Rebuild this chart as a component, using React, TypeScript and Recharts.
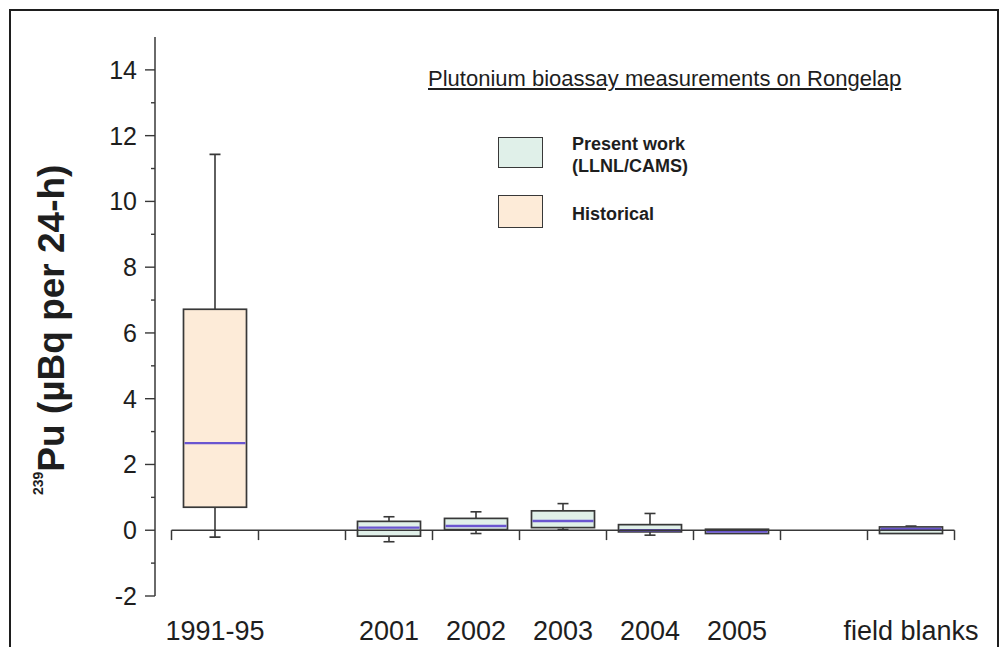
import { ComposedChart, Bar, XAxis, YAxis, ReferenceLine } from "recharts"

// slots along the x axis, two of them intentionally empty
const categories = ["1991-95", "", "2001", "2002", "2003", "2004", "2005", "", "field blanks"]
const groups = ["historical", null, "present", "present", "present", "present", "present", null, "present"]

const whiskerLow = [-0.21, null, -0.35, -0.1, 0.02, -0.15, -0.1, null, -0.1]
const boxLow = [0.7, null, -0.18, 0.02, 0.08, -0.05, -0.1, null, -0.1]
const medians = [2.65, null, 0.08, 0.13, 0.28, 0.0, -0.04, null, 0.04]
const boxHigh = [6.72, null, 0.27, 0.36, 0.59, 0.17, 0.03, null, 0.1]
const whiskerHigh = [11.43, null, 0.41, 0.56, 0.81, 0.51, 0.03, null, 0.13]

const yTicks = [-2, -1, 0, 1, 2, 3, 4, 5, 6, 7, 8, 9, 10, 11, 12, 13, 14]
const slotCenters = categories.map((_, i) => i + 0.5)
const boundaries = categories.map((_, i) => i).concat(categories.length)

const title = "Plutonium bioassay measurements on Rongelap"
const legendLabels = { present: ["Present work", "(LLNL/CAMS)"], historical: ["Historical"] }

const fills: Record<string, string> = { present: "#e0f0e9", historical: "#fdebd8" }
const ink = "#1e1e1e"
const edge = "#383838"
const medianColor = "#6a55d0"
const font = "'Liberation Sans', Arial, sans-serif"

const data = categories.map((label, i) => ({
  label,
  pos: slotCenters[i],
  group: groups[i],
  whisker: whiskerLow[i] == null ? null : [whiskerLow[i], whiskerHigh[i]],
  min: whiskerLow[i],
  q1: boxLow[i],
  median: medians[i],
  q3: boxHigh[i],
  max: whiskerHigh[i],
}))

function BoxShape(props: any) {
  const { x, y, width, height, payload } = props
  if (!payload || payload.q1 == null) return <g />
  const top = Math.min(y, y + height)
  const h = Math.abs(height)
  const py = (v: number) => top + ((payload.max - v) / (payload.max - payload.min)) * h
  const cx = x + width / 2
  const cap = 11
  const yMax = py(payload.max)
  const yMin = py(payload.min)
  const yQ3 = py(payload.q3)
  const yQ1 = py(payload.q1)
  const yMed = py(payload.median)
  return (
    <g>
      {yQ3 - yMax > 0.5 && (
        <g stroke={edge} strokeWidth={1.6}>
          <line x1={cx} x2={cx} y1={yMax} y2={yQ3} />
          <line x1={cx - cap / 2} x2={cx + cap / 2} y1={yMax} y2={yMax} />
        </g>
      )}
      {yMin - yQ1 > 0.5 && (
        <g stroke={edge} strokeWidth={1.6}>
          <line x1={cx} x2={cx} y1={yQ1} y2={yMin} />
          <line x1={cx - cap / 2} x2={cx + cap / 2} y1={yMin} y2={yMin} />
        </g>
      )}
      <rect
        x={x}
        y={yQ3}
        width={width}
        height={yQ1 - yQ3}
        fill={fills[payload.group]}
        stroke={edge}
        strokeWidth={1.7}
      />
      <line x1={x + 1} x2={x + width - 1} y1={yMed} y2={yMed} stroke={medianColor} strokeWidth={2.4} />
    </g>
  )
}

function YTick(props: any) {
  const { x, y, payload } = props
  const axisX = x + 18
  const major = payload.value % 2 === 0
  return (
    <g>
      <line x1={axisX - (major ? 10 : 4)} x2={axisX} y1={y} y2={y} stroke={edge} strokeWidth={1.4} />
      {major && (
        <text x={x} y={y} dy="0.36em" textAnchor="end" fontSize={25} fontFamily={font} fill={ink}>
          {payload.value}
        </text>
      )}
    </g>
  )
}

function YLabel(props: any) {
  const vb = props.viewBox
  const bx = vb.x - 11
  const by = vb.y + vb.height - 101
  return (
    <text
      x={bx}
      y={by}
      transform={`rotate(-90, ${bx}, ${by})`}
      fontFamily={font}
      fontWeight="bold"
      fill={ink}
    >
      <tspan fontSize={14} dy={-21}>239</tspan>
      <tspan fontSize={37} dy={21}>Pu (µBq per 24-h)</tspan>
    </text>
  )
}

function LegendBlock() {
  const rows: { key: string; top: number; boxTop: number; boxH: number }[] = [
    { key: "present", top: 133, boxTop: 137, boxH: 31 },
    { key: "historical", top: 203, boxTop: 195, boxH: 33 },
  ]
  return (
    <>
      <div
        style={{
          position: "absolute",
          left: 428,
          top: 68,
          fontFamily: font,
          fontSize: 22,
          lineHeight: "22px",
          color: ink,
          textDecoration: "underline",
          whiteSpace: "nowrap",
        }}
      >
        {title}
      </div>
      {rows.map((r) => (
        <div key={r.key}>
          <div
            style={{
              position: "absolute",
              left: 498,
              top: r.boxTop,
              width: 45,
              height: r.boxH,
              boxSizing: "border-box",
              border: `1.6px solid ${edge}`,
              background: fills[r.key],
            }}
          />
          <div
            style={{
              position: "absolute",
              left: 572,
              top: r.top,
              fontFamily: font,
              fontWeight: "bold",
              fontSize: 18,
              lineHeight: "22px",
              color: ink,
              whiteSpace: "nowrap",
            }}
          >
            {legendLabels[r.key as keyof typeof legendLabels].map((t) => (
              <div key={t}>{t}</div>
            ))}
          </div>
        </div>
      ))}
    </>
  )
}

export default function App() {
  return (
    <div
      style={{
        position: "relative",
        width: 1008,
        height: 655,
        margin: -8,
        overflow: "hidden",
        background: "#fff",
      }}
    >
      <div
        style={{
          position: "absolute",
          left: 9,
          top: 9,
          width: 990,
          height: 660,
          boxSizing: "border-box",
          border: `2px solid ${ink}`,
        }}
      />
      <ComposedChart
        width={1008}
        height={655}
        data={data}
        margin={{ top: 37, right: 53.5, bottom: 9, left: 75 }}
        style={{ position: "absolute", left: 0, top: 0 }}
      >
        <XAxis
          dataKey="pos"
          type="number"
          domain={[0, categories.length]}
          allowDataOverflow
          ticks={slotCenters}
          interval={0}
          tickFormatter={(v: number) => categories[Math.floor(v)]}
          padding={{ left: 16.5, right: 0 }}
          axisLine={false}
          tickLine={false}
          tickSize={0}
          tickMargin={25}
          height={50}
          tick={{ fontSize: 27, fontFamily: font, fill: ink }}
        />
        <YAxis
          domain={[-2, 15]}
          ticks={yTicks}
          interval={0}
          allowDataOverflow
          width={80}
          tickSize={10}
          tickMargin={8}
          tickLine={false}
          axisLine={{ stroke: edge, strokeWidth: 1.5 }}
          tick={<YTick />}
          label={{ content: <YLabel /> }}
        />
        <ReferenceLine
          segment={[
            { x: 0, y: 0 },
            { x: categories.length, y: 0 },
          ]}
          ifOverflow="visible"
          stroke={edge}
          strokeWidth={1.5}
        />
        {boundaries.map((b) => (
          <ReferenceLine
            key={b}
            segment={[
              { x: b, y: 0 },
              { x: b, y: -0.3 },
            ]}
            ifOverflow="visible"
            stroke={edge}
            strokeWidth={1.5}
          />
        ))}
        <Bar dataKey="whisker" barSize={63} shape={<BoxShape />} isAnimationActive={false} />
      </ComposedChart>
      <LegendBlock />
    </div>
  )
}
